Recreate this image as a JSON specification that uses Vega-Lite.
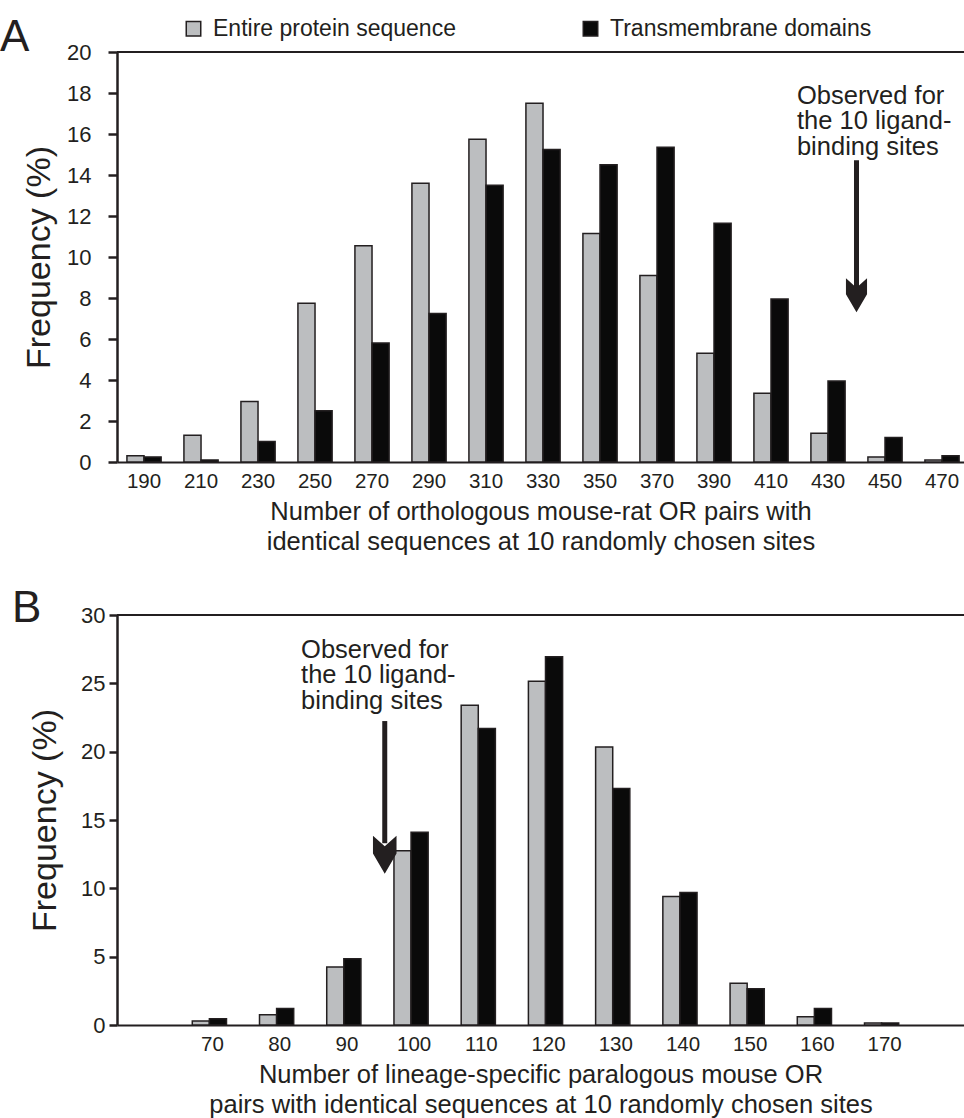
{
  "$schema": "https://vega.github.io/schema/vega-lite/v6.json",
  "padding": {"left": 0, "top": 16, "right": 0, "bottom": 0},
  "background": "white",
  "datasets": {
    "A": [
      {"bin": 190, "series": "Entire protein sequence", "freq": 0.3},
      {"bin": 190, "series": "Transmembrane domains", "freq": 0.25},
      {"bin": 210, "series": "Entire protein sequence", "freq": 1.3},
      {"bin": 210, "series": "Transmembrane domains", "freq": 0.1},
      {"bin": 230, "series": "Entire protein sequence", "freq": 2.95},
      {"bin": 230, "series": "Transmembrane domains", "freq": 1.0},
      {"bin": 250, "series": "Entire protein sequence", "freq": 7.75},
      {"bin": 250, "series": "Transmembrane domains", "freq": 2.5},
      {"bin": 270, "series": "Entire protein sequence", "freq": 10.55},
      {"bin": 270, "series": "Transmembrane domains", "freq": 5.8},
      {"bin": 290, "series": "Entire protein sequence", "freq": 13.6},
      {"bin": 290, "series": "Transmembrane domains", "freq": 7.25},
      {"bin": 310, "series": "Entire protein sequence", "freq": 15.75},
      {"bin": 310, "series": "Transmembrane domains", "freq": 13.5},
      {"bin": 330, "series": "Entire protein sequence", "freq": 17.5},
      {"bin": 330, "series": "Transmembrane domains", "freq": 15.25},
      {"bin": 350, "series": "Entire protein sequence", "freq": 11.15},
      {"bin": 350, "series": "Transmembrane domains", "freq": 14.5},
      {"bin": 370, "series": "Entire protein sequence", "freq": 9.1},
      {"bin": 370, "series": "Transmembrane domains", "freq": 15.35},
      {"bin": 390, "series": "Entire protein sequence", "freq": 5.3},
      {"bin": 390, "series": "Transmembrane domains", "freq": 11.65},
      {"bin": 410, "series": "Entire protein sequence", "freq": 3.35},
      {"bin": 410, "series": "Transmembrane domains", "freq": 7.95},
      {"bin": 430, "series": "Entire protein sequence", "freq": 1.4},
      {"bin": 430, "series": "Transmembrane domains", "freq": 3.95},
      {"bin": 450, "series": "Entire protein sequence", "freq": 0.25},
      {"bin": 450, "series": "Transmembrane domains", "freq": 1.2},
      {"bin": 470, "series": "Entire protein sequence", "freq": 0.1},
      {"bin": 470, "series": "Transmembrane domains", "freq": 0.3}
    ],
    "B": [
      {"bin": 70, "series": "Entire protein sequence", "freq": 0.3},
      {"bin": 70, "series": "Transmembrane domains", "freq": 0.45},
      {"bin": 80, "series": "Entire protein sequence", "freq": 0.75},
      {"bin": 80, "series": "Transmembrane domains", "freq": 1.2},
      {"bin": 90, "series": "Entire protein sequence", "freq": 4.25},
      {"bin": 90, "series": "Transmembrane domains", "freq": 4.85},
      {"bin": 100, "series": "Entire protein sequence", "freq": 12.75},
      {"bin": 100, "series": "Transmembrane domains", "freq": 14.1},
      {"bin": 110, "series": "Entire protein sequence", "freq": 23.4},
      {"bin": 110, "series": "Transmembrane domains", "freq": 21.7},
      {"bin": 120, "series": "Entire protein sequence", "freq": 25.15},
      {"bin": 120, "series": "Transmembrane domains", "freq": 26.95},
      {"bin": 130, "series": "Entire protein sequence", "freq": 20.35},
      {"bin": 130, "series": "Transmembrane domains", "freq": 17.3},
      {"bin": 140, "series": "Entire protein sequence", "freq": 9.4},
      {"bin": 140, "series": "Transmembrane domains", "freq": 9.7},
      {"bin": 150, "series": "Entire protein sequence", "freq": 3.05},
      {"bin": 150, "series": "Transmembrane domains", "freq": 2.65},
      {"bin": 160, "series": "Entire protein sequence", "freq": 0.6},
      {"bin": 160, "series": "Transmembrane domains", "freq": 1.2},
      {"bin": 170, "series": "Entire protein sequence", "freq": 0.15},
      {"bin": 170, "series": "Transmembrane domains", "freq": 0.15}
    ]
  },
  "spacing": 153,
  "bounds": "flush",
  "resolve": {"legend": {"color": "independent"}},
  "vconcat": [
    {
      "width": 847,
      "height": 410,
      "title": {"text": "A", "anchor": "start", "frame": "group", "fontSize": 44, "fontWeight": "normal", "baseline": "alphabetic", "offset": 0, "dx": -117, "dy": 78, "color": "#231f20"},
      "resolve": {"scale": {"x": "independent"}},
      "layer": [
        {
          "data": {"name": "A"},
          "mark": {"type": "bar", "stroke": "#231f20", "strokeWidth": 1.5},
          "encoding": {
            "x": {"field": "bin", "type": "ordinal",
                  "scale": {"paddingInner": 0.4, "paddingOuter": 0.13, "align": 0.67},
                  "axis": {"title": ["Number of orthologous mouse-rat OR pairs with", "identical sequences at 10 randomly chosen sites"],
                           "labelAngle": 0, "ticks": false, "domainWidth": 2, "labelFontSize": 20.5, "labelPadding": 9,
                           "titleFontSize": 25.5, "titleLineHeight": 30, "titlePadding": 8}},
            "xOffset": {"field": "series", "type": "nominal", "scale": {"paddingInner": 0, "paddingOuter": 0}},
            "y": {"field": "freq", "type": "quantitative",
                  "scale": {"domain": [0, 20], "nice": false},
                  "axis": {"title": "Frequency (%)", "values": [0,2,4,6,8,10,12,14,16,18,20], "tickSize": 9, "tickWidth": 2.5, "domainWidth": 2.5,
                           "labelFontSize": 22, "labelPadding": 17, "titleFontSize": 34, "titlePadding": 10}},
            "color": {"field": "series", "type": "nominal",
                      "scale": {"domain": ["Entire protein sequence", "Transmembrane domains"], "range": ["#bcbec0", "#0a0a0a"]},
                      "legend": {"title": null, "orient": "none", "direction": "horizontal", "legendX": 65, "legendY": -35,
                                 "symbolType": "square", "symbolSize": 210, "symbolStrokeColor": "#231f20", "symbolStrokeWidth": 1.5,
                                 "labelFontSize": 23, "labelOffset": 8, "columnPadding": 123, "labelColor": "#231f20", "labelLimit": 400}}
          }
        },
        {
          "data": {"values": [{}]},
          "mark": {"type": "rule", "strokeWidth": 2, "color": "#231f20"},
          "encoding": {"y": {"datum": 20, "type": "quantitative"}}
        },
        {
          "data": {"values": [{}]},
          "mark": {"type": "rule", "strokeWidth": 5, "color": "#231f20"},
          "encoding": {
            "x": {"datum": 440, "type": "quantitative", "scale": {"domain": [180.53, 477.72], "nice": false, "zero": false}, "axis": null},
            "y": {"datum": 14.72, "type": "quantitative"},
            "y2": {"datum": 8.4}
          }
        },
        {
          "data": {"values": [{}]},
          "mark": {"type": "point", "filled": true, "opacity": 1, "color": "#231f20", "strokeWidth": 0,
                   "shape": "M0,1 L-0.62,-0.06 L-0.62,-1 L0,-0.45 L0.62,-1 L0.62,-0.06 Z", "size": 1156},
          "encoding": {
            "x": {"datum": 440, "type": "quantitative", "scale": {"domain": [180.53, 477.72], "nice": false, "zero": false}, "axis": null},
            "y": {"datum": 8.13, "type": "quantitative"}
          }
        },
        {
          "data": {"values": [{}]},
          "mark": {"type": "text", "text": ["Observed for", "the 10 ligand-", "binding sites"], "align": "left", "baseline": "alphabetic",
                   "fontSize": 25.5, "lineHeight": 25.5, "color": "#231f20"},
          "encoding": {
            "x": {"datum": 419.1, "type": "quantitative", "scale": {"domain": [180.53, 477.72], "nice": false, "zero": false}, "axis": null},
            "y": {"datum": 17.47, "type": "quantitative"}
          }
        }
      ]
    },
    {
      "width": 847,
      "height": 410,
      "title": {"text": "B", "anchor": "start", "frame": "group", "fontSize": 44, "fontWeight": "normal", "baseline": "alphabetic", "offset": 0, "dx": -105, "dy": 62, "color": "#231f20"},
      "resolve": {"scale": {"x": "independent"}},
      "layer": [
        {
          "data": {"name": "B"},
          "mark": {"type": "bar", "stroke": "#231f20", "strokeWidth": 1.5},
          "encoding": {
            "x": {"field": "bin", "type": "ordinal",
                  "scale": {"paddingInner": 0.4, "paddingOuter": 1.127, "align": 0.56},
                  "axis": {"title": ["Number of lineage-specific paralogous mouse OR", "pairs with identical sequences at 10 randomly chosen sites"],
                           "labelAngle": 0, "ticks": false, "domainWidth": 2, "labelFontSize": 20.5, "labelPadding": 9,
                           "titleFontSize": 25.5, "titleLineHeight": 30, "titlePadding": 8}},
            "xOffset": {"field": "series", "type": "nominal", "scale": {"paddingInner": 0, "paddingOuter": 0}},
            "y": {"field": "freq", "type": "quantitative",
                  "scale": {"domain": [0, 30], "nice": false},
                  "axis": {"title": "Frequency (%)", "values": [0,5,10,15,20,25,30], "tickSize": 8, "tickWidth": 2.5, "domainWidth": 2.5,
                           "labelFontSize": 22, "labelPadding": 4, "titleFontSize": 34, "titlePadding": 18}},
            "color": {"field": "series", "type": "nominal",
                      "scale": {"domain": ["Entire protein sequence", "Transmembrane domains"], "range": ["#bcbec0", "#0a0a0a"]},
                      "legend": null}
          }
        },
        {
          "data": {"values": [{}]},
          "mark": {"type": "rule", "strokeWidth": 2, "color": "#231f20"},
          "encoding": {"y": {"datum": 30, "type": "quantitative"}}
        },
        {
          "data": {"values": [{}]},
          "mark": {"type": "rule", "strokeWidth": 5, "color": "#231f20"},
          "encoding": {
            "x": {"datum": 95, "type": "quantitative", "scale": {"domain": [54.37, 182.9], "nice": false, "zero": false}, "axis": null},
            "y": {"datum": 22.24, "type": "quantitative"},
            "y2": {"datum": 13.3}
          }
        },
        {
          "data": {"values": [{}]},
          "mark": {"type": "point", "filled": true, "opacity": 1, "color": "#231f20", "strokeWidth": 0,
                   "shape": "M0,1 L-0.62,-0.06 L-0.62,-1 L0,-0.45 L0.62,-1 L0.62,-0.06 Z", "size": 1444},
          "encoding": {
            "x": {"datum": 95, "type": "quantitative", "scale": {"domain": [54.37, 182.9], "nice": false, "zero": false}, "axis": null},
            "y": {"datum": 12.46, "type": "quantitative"}
          }
        },
        {
          "data": {"values": [{}]},
          "mark": {"type": "text", "text": ["Observed for", "the 10 ligand-", "binding sites"], "align": "left", "baseline": "alphabetic",
                   "fontSize": 25.5, "lineHeight": 25.5, "color": "#231f20"},
          "encoding": {
            "x": {"datum": 82.3, "type": "quantitative", "scale": {"domain": [54.37, 182.9], "nice": false, "zero": false}, "axis": null},
            "y": {"datum": 26.89, "type": "quantitative"}
          }
        }
      ]
    }
  ],
  "config": {
    "font": "Liberation Sans",
    "view": {"stroke": null},
    "axis": {"grid": false, "labelColor": "#231f20", "titleColor": "#231f20", "domainColor": "#231f20", "tickColor": "#231f20", "titleFontWeight": "normal", "labelFont": "Liberation Sans", "titleFont": "Liberation Sans"},
    "legend": {"labelFont": "Liberation Sans"},
    "title": {"font": "Liberation Sans"},
    "text": {"font": "Liberation Sans"}
  }
}
